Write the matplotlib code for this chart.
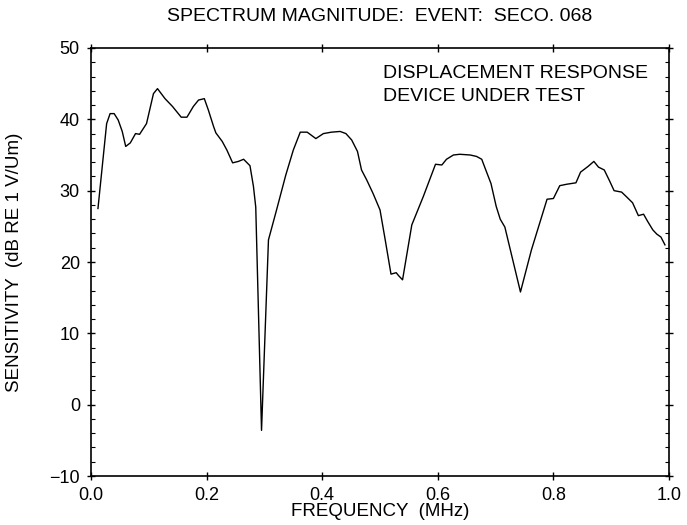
import matplotlib
matplotlib.use("Agg")
import matplotlib.pyplot as plt
from matplotlib.ticker import MultipleLocator

plt.rcParams['font.family'] = ['Liberation Sans', 'DejaVu Sans']

# frequency (MHz) and sensitivity (dB)
freq = [0.012, 0.027, 0.033, 0.040, 0.047, 0.054, 0.060, 0.068, 0.077, 0.084,
        0.096, 0.108, 0.115, 0.128, 0.141, 0.156, 0.166, 0.177, 0.186, 0.196,
        0.203, 0.212, 0.216, 0.227, 0.235, 0.245, 0.255, 0.264, 0.275, 0.281,
        0.285, 0.295, 0.307, 0.321, 0.337, 0.350, 0.362, 0.374, 0.389, 0.402,
        0.416, 0.431, 0.441, 0.451, 0.461, 0.468, 0.477, 0.488, 0.500, 0.509,
        0.519, 0.528, 0.532, 0.539, 0.555, 0.575, 0.596, 0.607, 0.615, 0.627,
        0.638, 0.656, 0.667, 0.676, 0.683, 0.692, 0.701, 0.708, 0.716, 0.743,
        0.762, 0.789, 0.800, 0.811, 0.823, 0.839, 0.847, 0.860, 0.870, 0.878,
        0.888, 0.897, 0.905, 0.918, 0.927, 0.937, 0.947, 0.956, 0.963, 0.972,
        0.979, 0.986, 0.993]
sens = [27.5, 39.4, 40.8, 40.8, 39.9, 38.3, 36.2, 36.7, 38.0, 37.9,
        39.4, 43.6, 44.3, 42.9, 41.8, 40.3, 40.3, 41.8, 42.7, 42.9,
        41.3, 39.0, 38.1, 36.9, 35.7, 33.9, 34.1, 34.4, 33.5, 30.6,
        27.7, -3.6, 23.1, 27.3, 32.2, 35.7, 38.2, 38.2, 37.3, 38.0,
        38.2, 38.3, 38.0, 37.1, 35.5, 32.9, 31.5, 29.6, 27.3, 23.1,
        18.3, 18.5, 18.1, 17.5, 25.2, 29.2, 33.7, 33.6, 34.4, 35.0,
        35.1, 35.0, 34.8, 34.4, 32.9, 31.0, 27.8, 26.0, 24.9, 15.8,
        21.7, 28.8, 28.9, 30.7, 30.9, 31.1, 32.6, 33.4, 34.1, 33.3,
        32.9, 31.4, 30.0, 29.8, 29.1, 28.3, 26.5, 26.7, 25.7, 24.5,
        23.9, 23.5, 22.4]

fig = plt.figure(figsize=(6.87, 5.25), dpi=100)
ax = fig.add_axes([0.1325, 0.0933, 0.8413, 0.8153])

ax.plot(freq, sens, color='black', linewidth=1.0)

ax.set_xlim(0, 1)
ax.set_ylim(-10, 50)
ax.xaxis.set_major_locator(MultipleLocator(0.2))
ax.yaxis.set_major_locator(MultipleLocator(10))
ax.yaxis.set_minor_locator(MultipleLocator(2))
ax.xaxis.set_major_formatter(plt.FormatStrFormatter('%.1f'))

ax.tick_params(which='major', direction='inout', length=6, width=1,
               top=True, right=True, labelsize=13, pad=5)
ax.tick_params(which='minor', direction='in', length=3, width=0.8,
               top=False, right=True)
for s in ax.spines.values():
    s.set_linewidth(1.2)

ax.set_xlabel('FREQUENCY  (MHz)', fontsize=13.5)
ax.set_ylabel('SENSITIVITY  (dB RE 1 V/Um)', fontsize=13.5)
ax.xaxis.set_label_coords(0.5, -0.084)
ax.yaxis.set_label_coords(-0.133, 0.5)
ax.xaxis.label.set_va('center')
ax.yaxis.label.set_va('center')

fig.text(0.553, 0.9695, 'SPECTRUM MAGNITUDE:  EVENT:  SECO. 068',
         ha='center', va='center', fontsize=14)

ax.text(0.506, 0.930, 'DISPLACEMENT RESPONSE', transform=ax.transAxes,
        ha='left', va='baseline', fontsize=14)
ax.text(0.506, 0.876, 'DEVICE UNDER TEST', transform=ax.transAxes,
        ha='left', va='baseline', fontsize=14)

fig.savefig('out.png', dpi=100)
